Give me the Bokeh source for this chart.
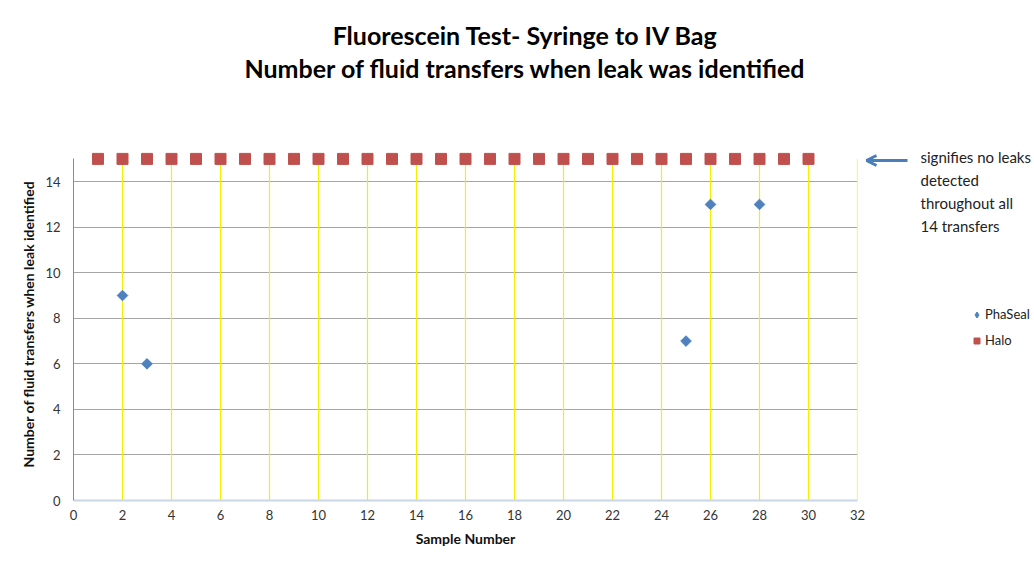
import math
from bokeh.plotting import figure
from bokeh.layouts import column, row
from bokeh.models import (FixedTicker, Label, Legend, LegendItem, Arrow, OpenHead, Range1d)
from bokeh.embed import file_html
from bokeh.resources import INLINE

# ---- data ----
halo_x = list(range(1, 31))
halo_y = [15] * 30
phaseal_x = [2, 3, 25, 26, 28]
phaseal_y = [9, 6, 7, 13, 13]
x_ticks = [0, 2, 4, 6, 8, 10, 12, 14, 16, 18, 20, 22, 24, 26, 28, 30, 32]
y_ticks = [0, 2, 4, 6, 8, 10, 12, 14]
title_lines = ["Fluorescein Test- Syringe to IV Bag",
               "Number of fluid transfers when leak was identified"]
note_lines = ["signifies no leaks", "detected", "throughout all", "14 transfers"]
series_names = ["PhaSeal", "Halo"]

FONT = "Lato"
RED = "#c0504d"
BLUE = "#4f81bd"


def strip(width, height, xr, yr):
    fig = figure(width=width, height=height, output_backend="svg",
                 toolbar_location=None, x_range=Range1d(*xr), y_range=Range1d(*yr),
                 x_axis_location=None, y_axis_location=None,
                 min_border=0, min_border_left=0, min_border_right=0,
                 min_border_top=0, min_border_bottom=0)
    fig.xgrid.visible = False
    fig.ygrid.visible = False
    fig.outline_line_color = None
    return fig


# ---------- title strip (pixel-like ranges) ----------
pt = strip(1034, 130, (0, 1034), (130, 0))
for txt, yy in zip(title_lines, [34, 67]):
    pt.add_layout(Label(x=525, y=yy, text=txt, text_align="center",
                        text_baseline="middle", text_font=FONT,
                        text_font_style="bold", text_font_size="25px",
                        text_color="#000000"))

# ---------- main chart ----------
p = figure(width=865, height=435, output_backend="svg", toolbar_location=None,
           x_range=Range1d(0, 32), y_range=Range1d(0, 15.5),
           min_border_left=73, min_border_right=8, min_border_top=17,
           min_border_bottom=65)
p.outline_line_color = None

p.xaxis.ticker = FixedTicker(ticks=x_ticks)
p.yaxis.ticker = FixedTicker(ticks=y_ticks)
p.yaxis.bounds = (0, 15)
for ax in (p.xaxis[0], p.yaxis[0]):
    ax.major_tick_line_color = None
    ax.minor_tick_line_color = None
    ax.major_tick_out = 0
    ax.major_tick_in = 0
    ax.major_label_text_font = FONT
    ax.major_label_text_font_size = "13px"
    ax.major_label_text_color = "#333333"
    ax.axis_label_text_font = FONT
    ax.axis_label_text_font_style = "bold"
    ax.axis_label_text_font_size = "14px"
    ax.axis_label_text_color = "#111111"
p.xaxis.axis_label = "Sample Number"
p.yaxis.axis_label = "Number of fluid transfers when leak identified"
p.xaxis.axis_line_color = "#c9d6e8"
p.xaxis.axis_line_width = 2
p.yaxis.axis_line_color = "#8c8c8c"
p.xaxis.major_label_standoff = 9
p.yaxis.major_label_standoff = 13
p.xaxis.axis_label_standoff = 7
p.yaxis.axis_label_standoff = 5

p.xgrid.grid_line_color = None
p.ygrid.ticker = FixedTicker(ticks=y_ticks[1:])
p.ygrid.grid_line_color = "#a6a6a6"
p.ygrid.grid_line_width = 1
vx = x_ticks[1:]
p.segment(x0=vx, x1=vx, y0=[0] * len(vx), y1=[15] * len(vx),
          line_color="#f5f000", line_width=1.2)

p.scatter(phaseal_x, phaseal_y, marker="square", size=7.5, angle=math.pi / 4,
          fill_color=BLUE, line_color=BLUE)
p.scatter(halo_x, halo_y, marker="square", size=11, fill_color=RED, line_color=RED)

# ---------- right strip: arrow, note, legend ----------
# the row aligns this strip's frame with the main frame (pixel rows 147..500)
pr = strip(169, 435, (865, 1034), (500, 147))
pr.add_layout(Arrow(x_start=907, y_start=160, x_end=866, y_end=160,
                    line_color="#4a7ebb", line_width=3,
                    end=OpenHead(size=10, line_color="#4a7ebb", line_width=3)))
for txt, yy in zip(note_lines, [156, 179, 202, 225]):
    pr.add_layout(Label(x=920, y=yy, text=txt, text_align="left",
                        text_baseline="middle", text_font=FONT,
                        text_font_size="15px", text_color="#222222"))
# legend proxies: same series, drawn outside this strip's visible ranges
lg_pha = pr.scatter(phaseal_x, phaseal_y, marker="diamond",
                    fill_color=BLUE, line_color=BLUE)
lg_halo = pr.scatter(halo_x, halo_y, marker="square", fill_color=RED,
                     line_color=RED)
common = dict(orientation="vertical", label_text_font=FONT,
              label_text_font_size="13px", label_text_color="#222222",
              padding=0, margin=0, spacing=0, border_line_color=None,
              background_fill_alpha=0)
leg1 = Legend(items=[LegendItem(label=series_names[0], renderers=[lg_pha])],
              location=(104, 178), glyph_width=15, glyph_height=15,
              label_height=15, label_standoff=1, **common)
leg2 = Legend(items=[LegendItem(label=series_names[1], renderers=[lg_halo])],
              location=(104, 152), glyph_width=15, glyph_height=15,
              label_height=15, label_standoff=1, **common)
pr.add_layout(leg1, "center")
pr.add_layout(leg2, "center")

layout = column(pt, row(p, pr))
open("out.html", "w").write(file_html(layout, INLINE))
